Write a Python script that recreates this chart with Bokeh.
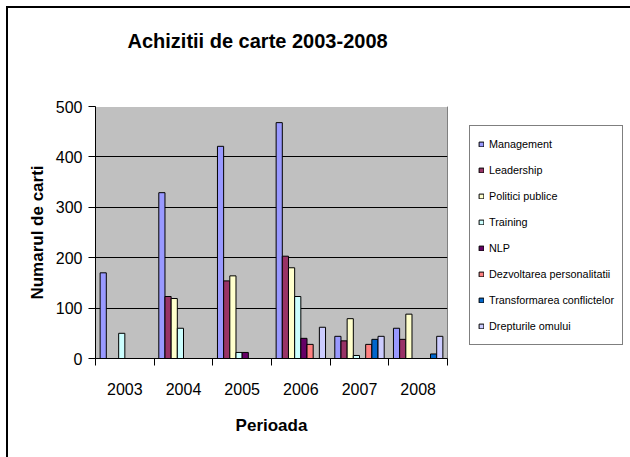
from bokeh.plotting import figure
from bokeh.models import (FixedTicker, Legend, LegendItem, ColumnDataSource,
                          Title, Range1d, LinearAxis)
from bokeh.embed import file_html
from bokeh.resources import INLINE

years = ["2003", "2004", "2005", "2006", "2007", "2008"]
series = ["Management", "Leadership", "Politici publice", "Training", "NLP",
          "Dezvoltarea personalitatii", "Transformarea conflictelor", "Drepturile omului"]
management = [170, 329, 421, 468, 44, 60]
leadership = [0, 123, 154, 203, 35, 38]
politici = [0, 119, 164, 180, 79, 88]
training = [50, 60, 12, 123, 6, 0]
nlp = [0, 0, 12, 40, 0, 0]
dezvoltarea = [0, 0, 0, 28, 28, 0]
transformarea = [0, 0, 0, 0, 38, 9]
drepturile = [0, 0, 0, 62, 44, 44]
values = [management, leadership, politici, training, nlp, dezvoltarea, transformarea, drepturile]
colors = ["#9999FF", "#993366", "#FFFFCC", "#CCFFFF", "#660066", "#FF8080", "#0066CC", "#CCCCFF"]
y_ticks = [0, 100, 200, 300, 400, 500]

FONT = "Liberation Sans"
n_series = len(series)
slot = 1.0 / (n_series + 1.5)

p = figure(frame_width=352, frame_height=252, output_backend="svg", toolbar_location=None,
           x_range=Range1d(0, len(years)), y_range=Range1d(0, 500),
           min_border_left=87, min_border_right=183, min_border_top=98, min_border_bottom=99)
p.styles = {"margin-left": "6px", "margin-top": "6px",
            "border-left": "2px solid black", "border-top": "2px solid black"}
p.title = Title(text="Achizitii de carte 2003-2008", align="left", offset=32,
                text_font=FONT, text_font_size="20px", text_font_style="bold",
                text_color="black", standoff=10)

# invisible spacer between title and plot area (white tick on white border)
spacer = LinearAxis(ticker=FixedTicker(ticks=[len(years) / 2]), major_tick_out=50, major_tick_in=0,
                    axis_line_color="white", major_tick_line_color="white",
                    minor_tick_line_color=None, major_label_standoff=0,
                    major_label_overrides={len(years) / 2: ""},
                    major_label_text_font_size="1px")
p.add_layout(spacer, "above")

p.background_fill_color = "#C0C0C0"
p.border_fill_color = "white"
p.outline_line_color = "#808080"
p.outline_line_width = 1

items = []
for j, (name, vals, col) in enumerate(zip(series, values, colors)):
    xs = [i + (0.75 + j + 0.5) * slot for i in range(len(years))]
    src = ColumnDataSource(dict(x=xs, top=vals))
    r = p.vbar(x="x", top="top", bottom=0, width=slot, source=src,
               fill_color=col, line_color="black", line_width=1)
    items.append(LegendItem(label=name, renderers=[r]))

# axes
xaxis = p.below[0]
xaxis.ticker = FixedTicker(ticks=[i + 0.5 for i in range(len(years))],
                           minor_ticks=list(range(len(years) + 1)))
xaxis.major_label_overrides = {i + 0.5: y for i, y in enumerate(years)}
xaxis.major_tick_out = 0
xaxis.major_tick_in = 0
xaxis.minor_tick_out = 7
xaxis.minor_tick_in = 0
xaxis.minor_tick_line_color = "black"
xaxis.axis_label = "Perioada"
xaxis.major_label_standoff = 17
xaxis.axis_label_standoff = 18

yaxis = p.left[0]
yaxis.ticker = FixedTicker(ticks=y_ticks)
yaxis.major_tick_out = 7
yaxis.major_tick_in = 0
yaxis.minor_tick_line_color = None
yaxis.axis_label = "Numarul de carti"
yaxis.major_label_standoff = 6
yaxis.axis_label_standoff = 6

for ax in (xaxis, yaxis):
    ax.axis_line_color = "black"
    ax.major_tick_line_color = "black"
    ax.major_label_text_font = FONT
    ax.major_label_text_font_size = "16px"
    ax.major_label_text_color = "black"
    ax.axis_label_text_font = FONT
    ax.axis_label_text_font_size = "17px"
    ax.axis_label_text_font_style = "bold"
    ax.axis_label_text_color = "black"

p.xgrid.visible = False
p.ygrid.ticker = FixedTicker(ticks=y_ticks)
p.ygrid.grid_line_color = "black"
p.ygrid.grid_line_width = 1

legend = Legend(items=items, location=(22, 13), orientation="vertical",
                border_line_color="black", border_line_width=1,
                background_fill_color="white", background_fill_alpha=1,
                padding=8, spacing=6, label_height=20, glyph_width=6, glyph_height=6,
                label_standoff=5, label_text_font=FONT, label_text_font_size="10.8px",
                label_text_color="black", margin=0)
p.add_layout(legend, "right")

open("out.html", "w").write(file_html(p, INLINE))
